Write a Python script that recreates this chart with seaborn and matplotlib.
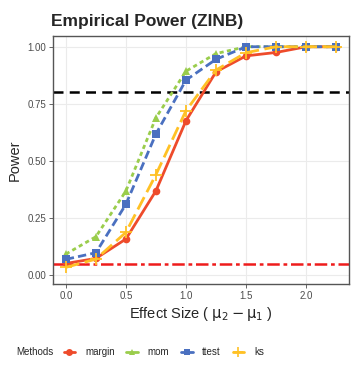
import numpy as np
import pandas as pd
import matplotlib.pyplot as plt
import seaborn as sns
from matplotlib.lines import Line2D

# Daten
effect_size = [0.0, 0.25, 0.5, 0.75, 1.0, 1.25, 1.5, 1.75, 2.0, 2.25]
power_margin = [0.051, 0.073, 0.158, 0.369, 0.676, 0.89, 0.96, 0.975, 1.0, 1.0]
power_mom = [0.092, 0.168, 0.368, 0.689, 0.893, 0.97, 1.0, 1.0, 1.0, 1.0]
power_ttest = [0.069, 0.098, 0.31, 0.618, 0.854, 0.945, 1.0, 1.0, 1.0, 1.0]
power_ks = [0.034, 0.07, 0.187, 0.44, 0.72, 0.898, 0.974, 1.0, 1.0, 1.0]
methods = ["margin", "mom", "ttest", "ks"]

colors = {"margin": "#EE4B2B", "mom": "#9ACD4C", "ttest": "#4A70C0", "ks": "#FFC125"}
markers = {"margin": "o", "mom": "^", "ttest": "s", "ks": "+"}
linestyles = {"margin": "-", "mom": (0, (1.5, 1.2)), "ttest": (0, (3, 1.5)), "ks": (0, (5, 2))}

df = pd.DataFrame({
    "EffectSize": effect_size * 4,
    "Power": power_margin + power_mom + power_ttest + power_ks,
    "Methods": np.repeat(methods, len(effect_size)),
})

sns.set_theme(style="whitegrid")
plt.rcParams["font.family"] = ["Liberation Sans", "DejaVu Sans"]
plt.rcParams["mathtext.fontset"] = "custom"
plt.rcParams["mathtext.rm"] = "DejaVu Sans"

fig, ax = plt.subplots(figsize=(3.57, 3.79), dpi=100)
fig.subplots_adjust(left=0.148, right=0.978, top=0.905, bottom=0.25)

ax.axhline(0.8, color="black", linestyle=(0, (4, 2.5)), linewidth=1.8, zorder=1)
ax.axhline(0.05, color="#EE1C1C", linestyle=(0, (5, 1.5, 1.5, 1.5)), linewidth=1.8, zorder=1)

for m in methods:
    sub = df[df["Methods"] == m]
    plus = markers[m] == "+"
    sns.lineplot(data=sub, x="EffectSize", y="Power", color=colors[m],
                 marker=markers[m], linestyle=linestyles[m], linewidth=2,
                 markersize=8 if plus else 5.5, markeredgewidth=1.3 if plus else 0,
                 markeredgecolor=colors[m], ax=ax, legend=False, zorder=3)

ax.set_xlim(-0.108, 2.358)
ax.set_ylim(-0.04, 1.047)
ax.set_xticks([0.0, 0.5, 1.0, 1.5, 2.0])
ax.set_yticks([0.0, 0.25, 0.5, 0.75, 1.0])
ax.set_xticklabels(["0.0", "0.5", "1.0", "1.5", "2.0"])
ax.set_yticklabels(["0.00", "0.25", "0.50", "0.75", "1.00"])
ax.tick_params(axis="both", labelsize=7, colors="#4D4D4D", length=3, width=0.6,
               direction="out", bottom=True, left=True, pad=2)
ax.grid(True, color="#EBEBEB", linewidth=0.8)
ax.set_axisbelow(True)
for sp in ax.spines.values():
    sp.set_edgecolor("#555555")
    sp.set_linewidth(1.0)

ax.set_xlabel(r"Effect Size ( $\mathrm{\mu_2 - \mu_1}$ )", fontsize=10.5, labelpad=3)
ax.set_ylabel("Power", fontsize=10.5, labelpad=4)
ax.set_title("Empirical Power (ZINB)", fontsize=12.5, fontweight="bold", loc="left",
             x=-0.005, pad=7)

# Legende unten, Titel links daneben
handles = []
for m in methods:
    plus = markers[m] == "+"
    handles.append(Line2D([0], [0], color=colors[m], marker=markers[m], linewidth=2,
                          markersize=7 if plus else 5,
                          markeredgewidth=1.2 if plus else 0))
fig.text(0.045, 0.071, "Methods", fontsize=7, va="center", ha="left")
fig.legend(handles, methods, loc="center left", bbox_to_anchor=(0.178, 0.071),
           ncol=4, frameon=False, fontsize=7, handlelength=1.2,
           columnspacing=1.2, handletextpad=1.0, borderaxespad=0, borderpad=0)

fig.savefig("out.png", dpi=100)
